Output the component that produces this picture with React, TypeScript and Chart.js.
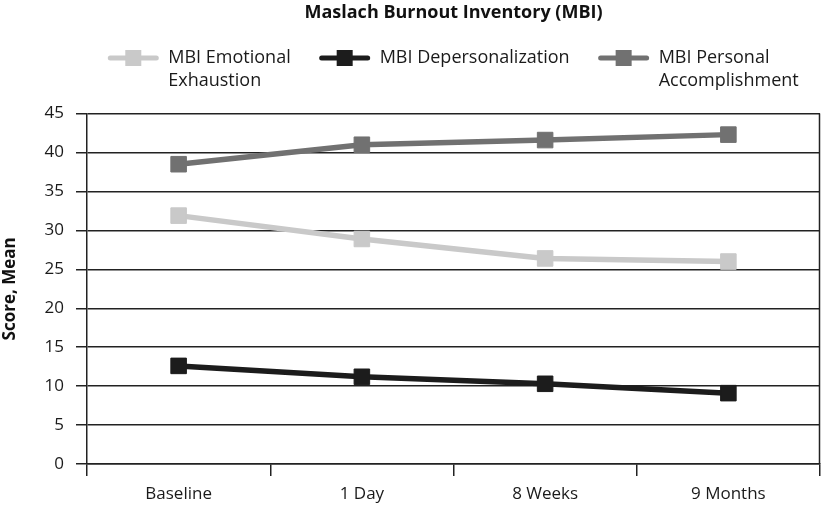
import React, { useEffect, useRef } from "react";
import { Chart, registerables } from "chart.js";

Chart.register(...registerables);

const TITLE = "Maslach Burnout Inventory (MBI)";
const Y_TITLE = "Score, Mean";
const CATEGORIES = ["Baseline", "1 Day", "8 Weeks", "9 Months"];

const EE_LABEL = ["MBI Emotional", "Exhaustion"];
const DP_LABEL = ["MBI Depersonalization"];
const PA_LABEL = ["MBI Personal", "Accomplishment"];

const EMOTIONAL_EXHAUSTION = [31.9, 28.9, 26.4, 26.0];
const DEPERSONALIZATION = [12.6, 11.2, 10.3, 9.1];
const PERSONAL_ACCOMPLISHMENT = [38.5, 41.0, 41.6, 42.3];

const Y_MIN = 0;
const Y_MAX = 45;
const Y_STEP = 5;

const COLORS = ["#c9c9c9", "#1c1c1c", "#717171"];
const FONT = "'Open Sans', 'Noto Sans', sans-serif";
const GRID = "#222222";

const rightBorderPlugin = {
  id: "rightBorder",
  afterDatasetsDraw(chart: any) {
    const ctx = chart.ctx as CanvasRenderingContext2D;
    const a = chart.chartArea;
    ctx.save();
    ctx.strokeStyle = GRID;
    ctx.lineWidth = 1.5;
    ctx.beginPath();
    ctx.moveTo(Math.round(a.right) - 0.5, a.top);
    ctx.lineTo(Math.round(a.right) - 0.5, a.bottom);
    ctx.stroke();
    ctx.restore();
  },
};

const legendPlugin = {
  id: "customLegend",
  afterDraw(chart: any) {
    const ctx = chart.ctx as CanvasRenderingContext2D;
    const area = chart.chartArea;
    const items = chart.data.datasets.map((ds: any) => ({
      lines: ds.legendLines as string[],
      color: ds.borderColor as string,
    }));
    const markerW = 50;
    const gapText = 10;
    const gapItem = 29;
    const lineH = 23.3;
    const yFirst = 58;
    ctx.save();
    ctx.font = `18px ${FONT}`;
    const widths = items.map((it: any) =>
      Math.max(...it.lines.map((l: string) => ctx.measureText(l).width))
    );
    let total = 0;
    widths.forEach((w: number, i: number) => {
      total += markerW + gapText + w + (i < widths.length - 1 ? gapItem : 0);
    });
    let x = (area.left + area.right) / 2 - total / 2;
    items.forEach((it: any, i: number) => {
      ctx.strokeStyle = it.color;
      ctx.lineWidth = 5;
      ctx.lineCap = "round";
      ctx.beginPath();
      ctx.moveTo(x + 2, yFirst);
      ctx.lineTo(x + markerW - 2, yFirst);
      ctx.stroke();
      ctx.fillStyle = it.color;
      ctx.fillRect(x + markerW / 2 - 8, yFirst - 8, 16, 16);
      ctx.fillStyle = "#1a1a1a";
      ctx.textAlign = "left";
      ctx.textBaseline = "middle";
      it.lines.forEach((l: string, j: number) => {
        ctx.fillText(l, x + markerW + gapText, yFirst + j * lineH);
      });
      x += markerW + gapText + widths[i] + gapItem;
    });
    ctx.restore();
  },
};

export default function App() {
  const ref = useRef<HTMLCanvasElement | null>(null);

  useEffect(() => {
    if (!ref.current) return;
    const mk = (label: string[], data: number[], color: string) => ({
      label: label.join(" "),
      legendLines: label,
      data,
      borderColor: color,
      backgroundColor: color,
      borderWidth: 5.5,
      pointStyle: "rect",
      pointRadius: 11,
      pointBorderWidth: 1,
      pointBackgroundColor: color,
      pointBorderColor: color,
      tension: 0,
    });
    const chart = new Chart(ref.current, {
      type: "line",
      data: {
        labels: CATEGORIES,
        datasets: [
          mk(EE_LABEL, EMOTIONAL_EXHAUSTION, COLORS[0]),
          mk(DP_LABEL, DEPERSONALIZATION, COLORS[1]),
          mk(PA_LABEL, PERSONAL_ACCOMPLISHMENT, COLORS[2]),
        ] as any,
      },
      plugins: [rightBorderPlugin, legendPlugin],
      options: {
        animation: false,
        responsive: false,
        layout: { autoPadding: false, padding: { right: 5, bottom: 0, left: 0, top: 0 } },
        plugins: {
          legend: { display: false },
          tooltip: { enabled: false },
          title: {
            display: true,
            text: TITLE,
            fullSize: false,
            color: "#111",
            font: { family: FONT, size: 18, weight: "bold", lineHeight: 1.2 },
            padding: { top: 2, bottom: 90 },
          },
        },
        scales: {
          x: {
            offset: true,
            afterFit(scale: any) {
              scale.height = 42;
            },
            grid: {
              offset: true,
              drawOnChartArea: false,
              drawTicks: true,
              tickLength: 12,
              color: GRID,
              lineWidth: 1.5,
            },
            border: { display: true, color: GRID, width: 1.5 },
            ticks: {
              color: "#1a1a1a",
              font: { family: FONT, size: 17 },
              padding: 8,
            },
          },
          y: {
            min: Y_MIN,
            max: Y_MAX,
            afterFit(scale: any) {
              scale.width = 87;
            },
            ticks: {
              stepSize: Y_STEP,
              color: "#1a1a1a",
              font: { family: FONT, size: 17 },
              padding: 12,
            },
            grid: {
              color: GRID,
              lineWidth: 1.5,
              tickLength: 11,
              drawTicks: true,
            },
            border: { display: true, color: GRID, width: 1.5 },
            title: {
              display: true,
              text: Y_TITLE,
              color: "#111",
              font: { family: FONT, size: 17, weight: "bold", lineHeight: 1.2 },
              padding: { top: 0, bottom: 0 },
            },
          },
        },
      } as any,
    });
    return () => chart.destroy();
  }, []);

  return (
    <div style={{ position: "absolute", left: 0, top: 0, width: 825, height: 506, background: "#fff" }}>
      <canvas ref={ref} width={825} height={506} style={{ display: "block" }} />
    </div>
  );
}
